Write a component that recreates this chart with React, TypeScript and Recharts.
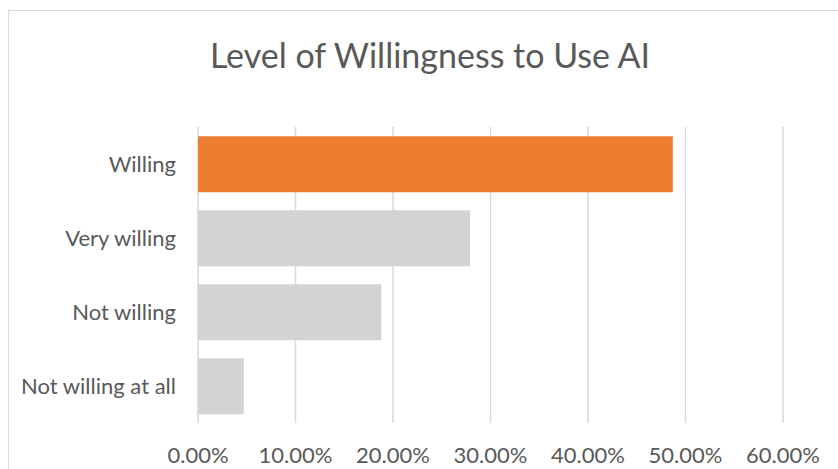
import { BarChart, Bar, XAxis, YAxis, CartesianGrid, Cell } from 'recharts';

const categories = ['Willing', 'Very willing', 'Not willing', 'Not willing at all'];
const shares = [0.487, 0.279, 0.188, 0.047];
const barColors = ['#ED7D31', '#D3D3D3', '#D3D3D3', '#D3D3D3'];
const xTicks = [0, 0.1, 0.2, 0.3, 0.4, 0.5, 0.6];
const title = 'Level of Willingness to Use AI';

const data = categories.map((name, i) => ({ name, value: shares[i] }));

const FONT = 'Lato, "Open Sans", sans-serif';

export default function App() {
  return (
    <div
      style={{
        position: 'absolute',
        left: 0,
        top: 0,
        width: 838,
        height: 469,
        overflow: 'hidden',
        background: '#fff',
        fontFamily: FONT,
      }}
    >
      <div
        style={{
          position: 'absolute',
          left: 8,
          top: 10,
          width: 900,
          height: 520,
          border: '1.5px solid #d9d9d9',
        }}
      />
      <div
        style={{
          position: 'absolute',
          left: 0,
          top: 35,
          width: 860,
          textAlign: 'center',
          fontSize: 34,
          lineHeight: '40px',
          color: '#595959',
        }}
      >
        {title}
      </div>
      <div style={{ position: 'absolute', left: 0, top: 0 }}>
        <BarChart
          width={838}
          height={469}
          data={data}
          layout="vertical"
          margin={{ top: 127, right: 55, bottom: 16, left: 8 }}
          barCategoryGap="12.5%"
        >
          <CartesianGrid horizontal={false} stroke="#d9d9d9" strokeWidth={1.5} />
          <XAxis
            type="number"
            domain={[0, 0.6]}
            ticks={xTicks}
            tickFormatter={(v) => `${(v * 100).toFixed(2)}%`}
            axisLine={false}
            tickLine={false}
            height={30}
            tickMargin={18}
            tick={{ fill: '#595959', fontSize: 22, fontFamily: FONT }}
          />
          <YAxis
            type="category"
            dataKey="name"
            width={190}
            axisLine={false}
            tickLine={false}
            tickMargin={16}
            tick={{ fill: '#595959', fontSize: 22, fontFamily: FONT }}
          />
          <Bar dataKey="value" isAnimationActive={false}>
            {data.map((d, i) => (
              <Cell key={d.name} fill={barColors[i]} />
            ))}
          </Bar>
        </BarChart>
      </div>
    </div>
  );
}
